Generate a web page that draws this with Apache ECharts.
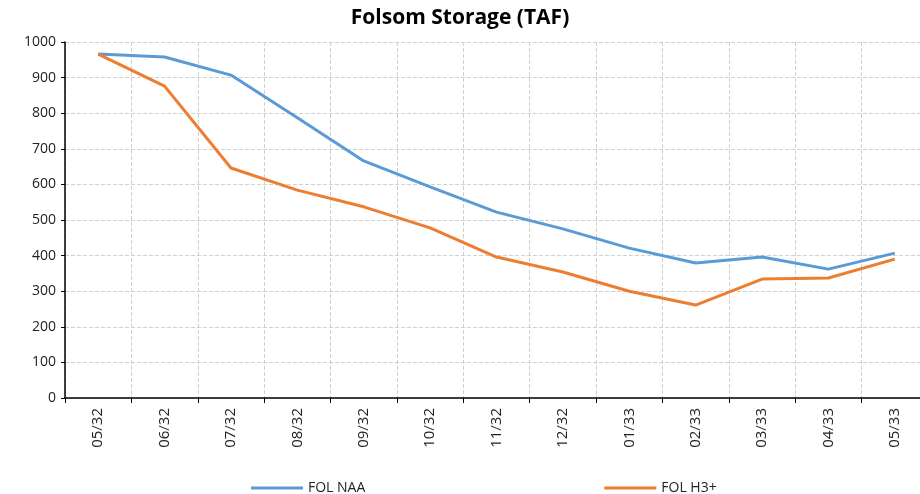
<!DOCTYPE html>
<html>
<head>
<meta charset="utf-8">
<script src="https://cdn.jsdelivr.net/npm/echarts@6/dist/echarts.min.js"></script>
<style>
  html, body { margin: 0; padding: 0; background: #fff; }
  #chart { width: 920px; height: 494px; }
</style>
</head>
<body>
<div id="chart"></div>
<script>
var months = ['05/32', '06/32', '07/32', '08/32', '09/32', '10/32', '11/32',
              '12/32', '01/33', '02/33', '03/33', '04/33', '05/33'];
var folNaa = [966, 958, 907, 787, 666, 593, 522, 475, 421, 379, 396, 362, 407];
var folH3 = [966, 876, 646, 584, 537, 478, 396, 354, 300, 261, 334, 337, 390];

var myChart = echarts.init(document.getElementById('chart'));

var font = '"Open Sans", "Liberation Sans", sans-serif';

option = {
    animation: false,
    title: {
        text: 'Folsom Storage (TAF)',
        left: 'center',
        top: 3,
        textStyle: {
            fontFamily: font,
            fontSize: 21,
            fontWeight: 'bold',
            color: '#000'
        }
    },
    legend: {
        top: 476,
        left: 246,
        itemGap: 239,
        icon: 'rect',
        itemWidth: 52,
        itemHeight: 3,
        textStyle: {
            fontFamily: font,
            fontSize: 14,
            color: '#222'
        },
        data: ['FOL NAA', 'FOL H3+']
    },
    grid: {
        left: 65,
        right: -8,
        top: 42,
        bottom: 96,
        outerBoundsMode: 'none'
    },
    xAxis: {
        type: 'category',
        data: months,
        boundaryGap: true,
        axisLine: { lineStyle: { color: '#000', width: 1.5 } },
        axisTick: { show: true, length: 5, lineStyle: { color: '#000' } },
        axisLabel: {
            rotate: 90,
            margin: 10,
            fontFamily: font,
            fontSize: 15,
            color: '#222'
        },
        splitLine: {
            show: true,
            lineStyle: { color: '#d0d0d0', type: 'dashed' }
        }
    },
    yAxis: {
        type: 'value',
        min: 0,
        max: 1000,
        interval: 100,
        axisLine: { show: true, lineStyle: { color: '#000', width: 1.5 } },
        axisTick: { show: true, length: 4, lineStyle: { color: '#000' } },
        axisLabel: {
            margin: 9,
            fontFamily: font,
            fontSize: 14,
            color: '#222',
            formatter: function (v) { return String(v); }
        },
        splitLine: {
            show: true,
            lineStyle: { color: '#d0d0d0', type: 'dashed' }
        }
    },
    series: [
        {
            name: 'FOL NAA',
            type: 'line',
            data: folNaa,
            showSymbol: false,
            symbol: 'none',
            lineStyle: { color: '#5b9bd5', width: 3 },
            itemStyle: { color: '#5b9bd5' }
        },
        {
            name: 'FOL H3+',
            type: 'line',
            data: folH3,
            showSymbol: false,
            symbol: 'none',
            lineStyle: { color: '#ed7d31', width: 3 },
            itemStyle: { color: '#ed7d31' }
        }
    ]
};

myChart.setOption(option);
</script>
</body>
</html>
